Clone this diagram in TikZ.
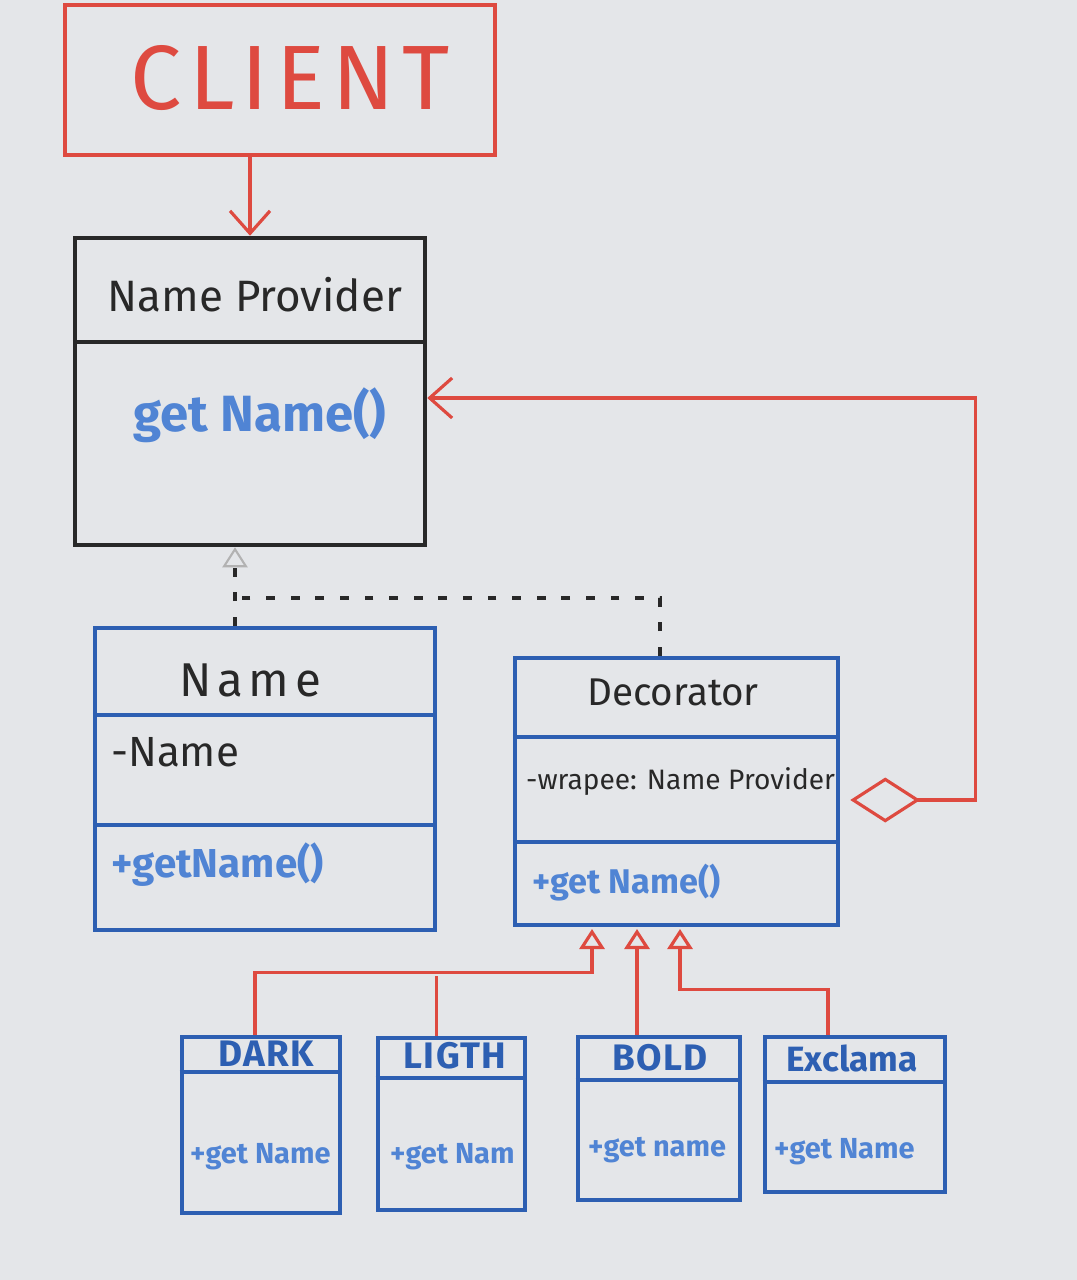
\documentclass[tikz,border=0pt]{standalone}
\usepackage{fontspec}
\setmainfont{Fira Sans}
\usetikzlibrary{arrows.meta}
\definecolor{board}{RGB}{228,230,233}
\definecolor{penred}{RGB}{222,74,64}
\definecolor{penblue}{RGB}{45,95,178}
\definecolor{penlight}{RGB}{80,132,212}
\definecolor{penblack}{RGB}{40,40,40}

\begin{document}
\begin{tikzpicture}[x=0.02cm, y=-0.02cm,
  box/.style={draw=penblue, line width=2.6pt, rectangle, inner sep=0pt},
  sep/.style={draw=penblue, line width=2.4pt},
  redline/.style={draw=penred, line width=1.8pt},
  dashline/.style={draw=penblack, line width=2pt, dash pattern=on 5pt off 9pt},
  title/.style={text=penblack, font=\fontsize{22}{24}\selectfont},
  attr/.style={text=penblack, anchor=west, font=\fontsize{20}{22}\selectfont},
  meth/.style={text=penlight, anchor=west, font=\fontsize{19.5}{21}\selectfont\bfseries},
  small/.style={text=penblue, font=\fontsize{21}{23}\selectfont\bfseries\addfontfeatures{LetterSpace=4}},
  submeth/.style={meth, font=\fontsize{16.5}{18}\selectfont\bfseries}]
\fill[board] (0,0) rectangle (1077,1280);
\useasboundingbox (0,0) rectangle (1077,1280);

\node[box, draw=penred, minimum width=8.6cm, minimum height=3cm] (client) at (280,80) {};
\node[text=penred, font=\fontsize{52}{54}\selectfont\addfontfeatures{LetterSpace=8}] (clientlabel) at (290,78) {CLIENT};

\node[box, draw=penblack, minimum width=7cm, minimum height=6.14cm] (provider) at (250,391.5) {};
\draw[sep, draw=penblack] (provider.west |- 0,342) -- (provider.east |- 0,342);
\node[title, font=\fontsize{25}{27}\selectfont] (providertitle) at (255,295) {Name Provider};
\node[text=penlight, font=\fontsize{29}{31}\selectfont\bfseries] (providermeth) at (260,415) {get Name()};

\node[box, minimum width=6.8cm, minimum height=6.04cm] (name) at (265,779) {};
\draw[sep] (name.west |- 0,715) -- (name.east |- 0,715);
\draw[sep] (name.west |- 0,825) -- (name.east |- 0,825);
\node[title, font=\fontsize{27}{29}\selectfont\addfontfeatures{LetterSpace=12}] (nametitle) at (250,680) {Name};
\node[attr, font=\fontsize{24}{26}\selectfont] (nameattr) at (105,752) {-Name};
\node[meth, font=\fontsize{23}{25}\selectfont\bfseries] (namemeth) at (105,865) {+getName()};

\node[box, minimum width=6.46cm, minimum height=5.34cm] (decorator) at (676.5,791.5) {};
\draw[sep] (decorator.west |- 0,737) -- (decorator.east |- 0,737);
\draw[sep] (decorator.west |- 0,842) -- (decorator.east |- 0,842);
\node[title] (decotitle) at (673,692) {Decorator};
\node[attr, font=\fontsize{16}{18}\selectfont] (decoattr) at (520,782) {-wrapee: Name Provider};
\node[meth] (decometh) at (526,883) {+get Name()};

\node[box, minimum width=3.16cm, minimum height=3.52cm] (dark) at (261,1125) {};
\draw[sep] (dark.west |- 0,1072) -- (dark.east |- 0,1072);
\node[small] (darktitle) at (266,1054) {DARK};
\node[submeth] (darkmeth) at (184,1157) {+get Name};

\node[box, minimum width=2.94cm, minimum height=3.44cm] (ligth) at (451.5,1124) {};
\draw[sep] (ligth.west |- 0,1078) -- (ligth.east |- 0,1078);
\node[small] (ligthtitle) at (455,1056) {LIGTH};
\node[submeth] (ligthmeth) at (384,1157) {+get Nam};

\node[box, minimum width=3.24cm, minimum height=3.26cm] (bold) at (659,1118.5) {};
\draw[sep] (bold.west |- 0,1080) -- (bold.east |- 0,1080);
\node[small] (boldtitle) at (660,1058) {BOLD};
\node[submeth] (boldmeth) at (582,1150) {+get name};

\node[box, minimum width=3.6cm, minimum height=3.1cm] (excl) at (855,1114.5) {};
\draw[sep] (excl.west |- 0,1082) -- (excl.east |- 0,1082);
\node[small, font=\fontsize{20}{22}\selectfont\bfseries] (excltitle) at (852,1058) {Exclama};
\node[submeth] (exclmeth) at (768,1152) {+get Name};

\draw[redline, -{Straight Barb[length=0.45cm, width=0.8cm]}] (client.south -| provider.north) -- (provider.north);

\coordinate (join) at (235,598);
\draw[dashline, -{Triangle[open, length=0.4cm, width=0.5cm, line width=1.2pt, color=black!30]}] (name.north -| join) -- (provider.south -| join);
\draw[dashline] (decorator.north -| 660,0) |- (join);

\draw[redline, {Diamond[open, length=1.4cm, width=0.9cm]}-{Straight Barb[length=0.45cm, width=0.8cm]}]
  ([xshift=0.2cm]decorator.east |- 0,800) -- ++(125,0) |- (provider.east |- 0,398);

\coordinate (inha) at (592,929);
\coordinate (inhb) at (637,929);
\coordinate (inhc) at (680,929);
\draw[redline, -{Triangle[open, length=0.4cm, width=0.5cm]}] ([xshift=-0.12cm]dark.north) -- ++(0,-62) -| (inha);
\draw[redline] ([xshift=-0.3cm]ligth.north) -- ++(0,-60);
\draw[redline, -{Triangle[open, length=0.4cm, width=0.5cm]}] (bold.north -| inhb) -- (inhb);
\draw[redline, -{Triangle[open, length=0.4cm, width=0.5cm]}] ([xshift=-0.54cm]excl.north) -- ++(0,-45) -| (inhc);
\end{tikzpicture}
\end{document}
